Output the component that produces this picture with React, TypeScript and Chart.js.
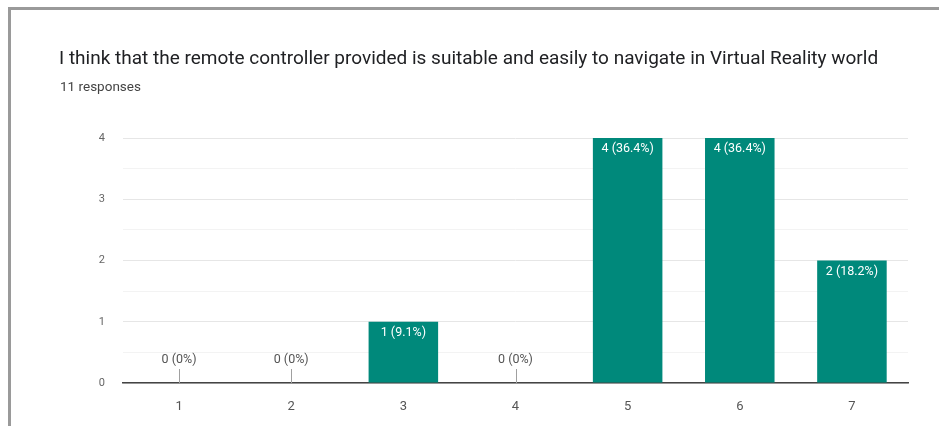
import React, { useEffect, useRef } from "react";
import { Chart, registerables } from "chart.js";

Chart.register(...registerables);

const TITLE = "I think that the remote controller provided is suitable and easily to navigate in Virtual Reality world";
const SUBTITLE = "11 responses";
const categories = ["1", "2", "3", "4", "5", "6", "7"];
const counts = [0, 0, 1, 0, 4, 4, 2];
const percents = ["0%", "0%", "9.1%", "0%", "36.4%", "36.4%", "18.2%"];
const yTicks = [0, 1, 2, 3, 4];

const BAR_COLOR = "#00897b";
const FONT = "Roboto, 'Liberation Sans', sans-serif";

const labelPlugin = {
  id: "barLabels",
  afterDatasetsDraw(chart: any) {
    const ctx = chart.ctx;
    const meta = chart.getDatasetMeta(0);
    const yScale = chart.scales.y;
    const base = yScale.getPixelForValue(0);
    ctx.save();
    ctx.textAlign = "center";
    ctx.textBaseline = "middle";
    ctx.font = `12.5px ${FONT}`;
    meta.data.forEach((bar: any, i: number) => {
      const text = `${counts[i]} (${percents[i]})`;
      if (counts[i] > 0) {
        ctx.fillStyle = "#ffffff";
        ctx.fillText(text, bar.x, bar.y + 11);
      } else {
        ctx.strokeStyle = "#a0a0a0";
        ctx.lineWidth = 1;
        ctx.beginPath();
        ctx.moveTo(Math.round(bar.x) + 0.5, base);
        ctx.lineTo(Math.round(bar.x) + 0.5, base - 14);
        ctx.stroke();
        ctx.fillStyle = "#555555";
        ctx.fillText(text, bar.x, base - 23);
      }
    });
    ctx.restore();
  },
};

export default function App() {
  const ref = useRef<HTMLCanvasElement | null>(null);
  useEffect(() => {
    if (!ref.current) return;
    const chart = new Chart(ref.current, {
      type: "bar",
      data: {
        labels: categories,
        datasets: [
          {
            data: counts,
            backgroundColor: BAR_COLOR,
            borderWidth: 0,
            barPercentage: 0.62,
            categoryPercentage: 1,
          },
        ],
      },
      options: {
        animation: false,
        responsive: false,
        maintainAspectRatio: false,
        layout: { padding: { left: 80, right: 31, top: 138, bottom: 0 } },
        plugins: {
          legend: { display: false },
          tooltip: { enabled: false },
          title: { display: false },
        },
        scales: {
          x: {
            grid: { display: false, drawTicks: false },
            border: { display: true, color: "#444444", width: 1.5 },
            ticks: {
              color: "#555555",
              padding: 16,
              font: { family: FONT, size: 13 },
            },
            afterFit(scale: any) {
              scale.height = 43;
            },
          },
          y: {
            min: 0,
            max: 4,
            ticks: {
              stepSize: 0.5,
              padding: 18,
              color: "#666666",
              font: { family: FONT, size: 11 },
              callback: (v: any) => (yTicks.includes(Number(v)) ? String(v) : ""),
            },
            grid: {
              drawTicks: false,
              color: (c: any) => (Number.isInteger(c.tick?.value) ? "#e6e6e6" : "#f3f3f3"),
            },
            border: { display: false },
            afterFit(scale: any) {
              scale.width = 43;
            },
          },
        },
      },
      plugins: [labelPlugin],
    });
    return () => chart.destroy();
  }, []);

  return (
    <div
      style={{
        position: "fixed",
        left: 0,
        top: 0,
        width: 939,
        height: 426,
        background: "#ffffff",
        overflow: "hidden",
        fontFamily: FONT,
      }}
    >
      <div
        style={{
          position: "absolute",
          left: 8,
          top: 7,
          width: 940,
          height: 416,
          borderTop: "3px solid #9a9a9a",
          borderLeft: "3px solid #9a9a9a",
          borderBottom: "1px solid #dddddd",
        }}
      />
      <canvas ref={ref} width={939} height={426} style={{ position: "absolute", left: 0, top: 0 }} />
      <div
        style={{
          position: "absolute",
          left: 59,
          top: 46,
          fontSize: 19,
          lineHeight: "24px",
          color: "#202124",
          whiteSpace: "nowrap",
        }}
      >
        {TITLE}
      </div>
      <div
        style={{
          position: "absolute",
          left: 60,
          top: 78,
          fontSize: 13.5,
          lineHeight: "16px",
          color: "#444444",
          whiteSpace: "nowrap",
        }}
      >
        {SUBTITLE}
      </div>
    </div>
  );
}
